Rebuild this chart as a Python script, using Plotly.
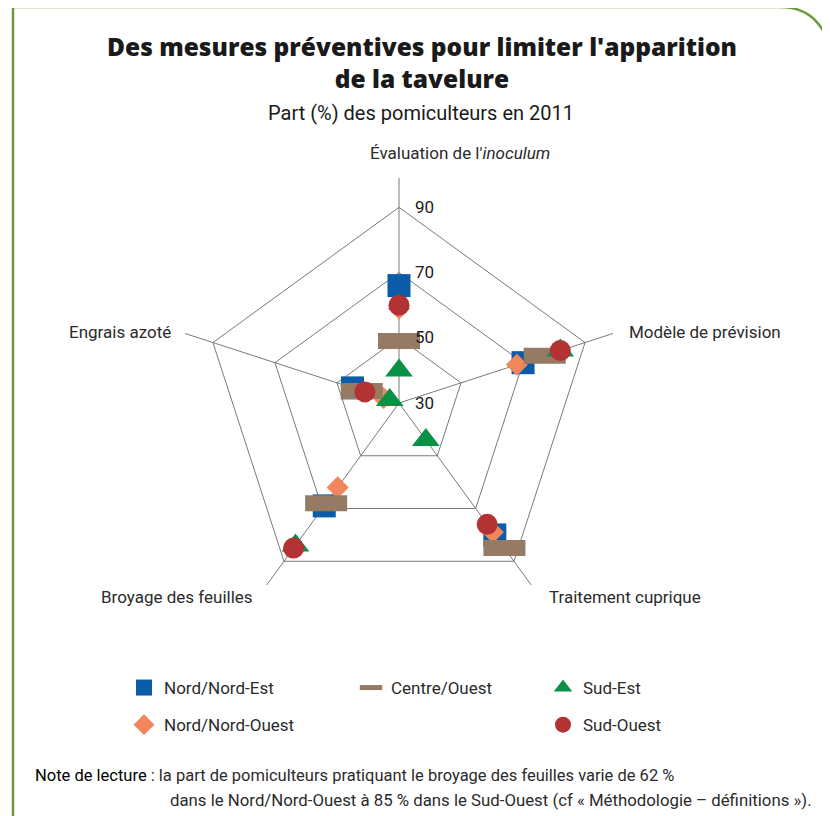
import plotly.graph_objects as go

# ---- data ----
axes = ["Évaluation de l'inoculum", "Modèle de prévision", "Traitement cuprique",
        "Broyage des feuilles", "Engrais azoté"]
axis_labels = ["Évaluation de l'<i>inoculum</i>", "Modèle de prévision", "Traitement cuprique",
               "Broyage des feuilles", "Engrais azoté"]
regions = ["Nord/Nord-Est", "Nord/Nord-Ouest", "Centre/Ouest", "Sud-Est", "Sud-Ouest"]
nord_nord_est = [66, 70, 80, 69, 45]
nord_nord_ouest = [59, 68, 79, 62, 35]
centre_ouest = [49, 77, 85, 68, 42]
sud_est = [40, 82, 44, 84, 33]
sud_ouest = [60, 82, 76, 85, 41]
radial_ticks = [30, 50, 70, 90]

# page body has an 8px margin: figure is 822x808 so that it fills the 830x816 window
OFF = 8
W, H = 830 - OFF, 816 - OFF
def px(x):
    return (x - OFF) / W
def py(y):
    return 1 - (y - OFF) / H

series = [nord_nord_est, nord_nord_ouest, centre_ouest, sud_est, sud_ouest]
styles = [
    dict(symbol="square", size=23, color="#0A5CA8", line=dict(width=0), legend="legend"),
    dict(symbol="diamond", size=17, color="#F08659", line=dict(width=0), legend="legend"),
    dict(symbol="line-ew", size=30, color="#957A64", line=dict(width=16, color="#957A64"), legend="legend2"),
    dict(symbol="triangle-up", size=24, color="#0B9146", line=dict(width=0), legend="legend3"),
    dict(symbol="circle", size=21, color="#B33233", line=dict(width=0), legend="legend3"),
]

fig = go.Figure()
for name, vals, st in zip(regions, series, styles):
    fig.add_trace(go.Scatterpolar(
        r=vals, theta=axes, mode="markers", name=name,
        legendgroup=name, legend=st["legend"],
        marker=dict(symbol=st["symbol"], size=st["size"], color=st["color"], line=st["line"]),
        showlegend=True,
    ))

FONT = "Roboto"
TXT = "#2b2b2b"
TITLE_FONT = dict(family="Open Sans", size=24.5, color="#1a1a1a", weight=800)

annotations = [
    dict(text="Des mesures préventives pour limiter l'apparition<br>de la tavelure",
         x=px(422), y=py(63), xanchor="center", yanchor="middle", showarrow=False,
         font=TITLE_FONT),
    dict(text="Part (%) des pomiculteurs en 2011", x=px(421), y=py(113),
         xanchor="center", yanchor="middle", showarrow=False,
         font=dict(family=FONT, size=20, color="#1a1a1a")),
]
label_pos = [(460, 153, "center"), (627, 332, "left"), (547, 597, "left"),
             (255, 597, "right"), (173, 332, "right")]
for lab, (x, y, anc) in zip(axis_labels, label_pos):
    annotations.append(dict(text=lab, x=px(x), y=py(y), xanchor=anc, yanchor="middle",
                            showarrow=False, font=dict(family=FONT, size=17, color=TXT)))
annotations.append(dict(
    text="<span style='color:#000'>Note de lecture</span> : la part de pomiculteurs pratiquant le broyage des feuilles varie de 62 %",
    x=px(33), y=py(775), xanchor="left", yanchor="middle", showarrow=False,
    font=dict(family=FONT, size=16.5, color=TXT)))
annotations.append(dict(
    text="dans le Nord/Nord-Ouest à 85 % dans le Sud-Ouest (cf « Méthodologie – définitions »).",
    x=px(168), y=py(800), xanchor="left", yanchor="middle", showarrow=False,
    font=dict(family=FONT, size=16.8, color=TXT)))

border = (f"M {px(13)},{py(830)} L {px(13)},{py(7)} L {px(780)},{py(7)} "
          f"C {px(810)},{py(7)} {px(826)},{py(25)} {px(834)},{py(60)}")

legend_common = dict(font=dict(family=FONT, size=17, color=TXT), bgcolor="rgba(0,0,0,0)",
                     traceorder="grouped", tracegroupgap=12, yanchor="top", xanchor="left",
                     orientation="v")

fig.update_layout(
    width=W, height=H,
    margin=dict(l=0, r=0, t=0, b=0),
    paper_bgcolor="white",
    font=dict(family=FONT, color=TXT),
    polar=dict(
        domain=dict(x=[px(174), px(624)], y=[py(628), py(178)]),
        bgcolor="white",
        gridshape="linear",
        angularaxis=dict(rotation=90, direction="clockwise", showline=False,
                         showticklabels=False, ticks="", gridcolor="#7a7a7a", gridwidth=1),
        radialaxis=dict(range=[30, 99], tickvals=radial_ticks, angle=90, tickangle=90,
                        showline=False, ticks="outside", ticklen=12,
                        tickcolor="rgba(0,0,0,0)", gridcolor="#7a7a7a", gridwidth=1,
                        side="clockwise",
                        tickfont=dict(family=FONT, size=17, color="#1a1a1a")),
    ),
    legend=dict(x=px(124), y=py(670), **legend_common),
    legend2=dict(x=px(351), y=py(670), **legend_common),
    legend3=dict(x=px(543), y=py(670), **legend_common),
    annotations=annotations,
    shapes=[dict(type="path", path=border, xref="paper", yref="paper",
                 line=dict(color="#6B9B3A", width=2.5))],
)

fig.write_html("out.html")
